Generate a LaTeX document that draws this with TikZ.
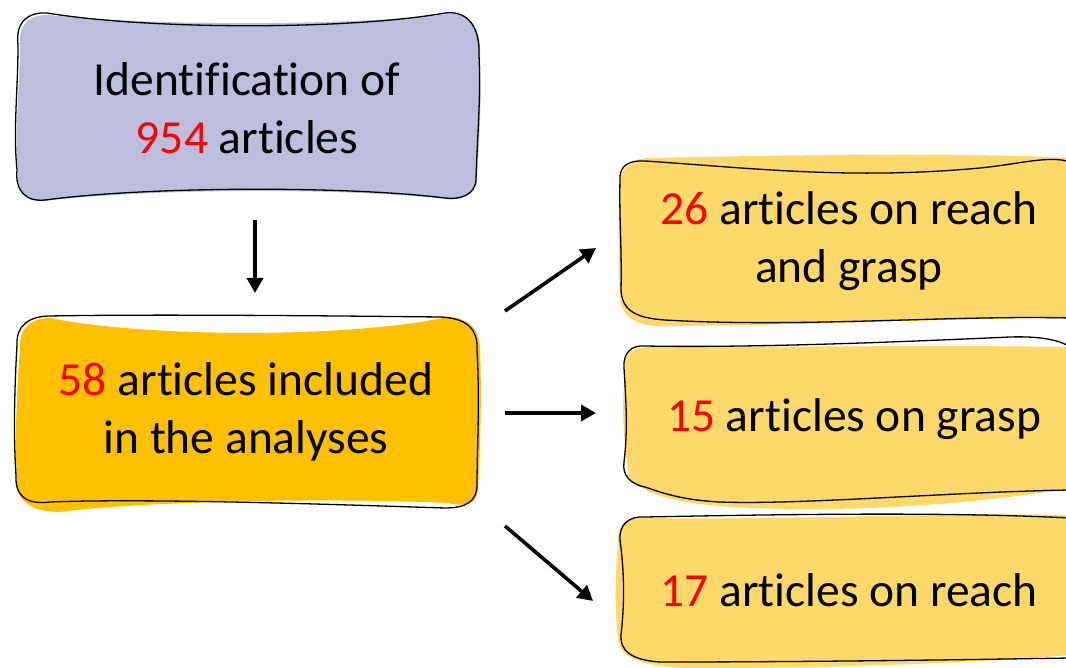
\documentclass[tikz,border=0pt]{standalone}
\usepackage{fontspec}
\setmainfont[Ligatures=NoCommon]{Carlito}
\usetikzlibrary{arrows.meta}
\definecolor{lav}{RGB}{189,189,221}
\definecolor{amber}{RGB}{255,192,0}
\definecolor{lamber}{RGB}{254,216,104}
\definecolor{num}{RGB}{255,0,0}
\tikzset{
  outline/.style={draw=black, line width=1.3pt},
  txt/.style={align=center, font=\fontsize{47.5}{57.5}\selectfont, text=black, inner sep=0pt},
  arr/.style={line width=3.6pt, -{Triangle[length=15pt,width=16pt]}},
}
\newcommand{\nm}[1]{\textcolor{num}{#1}}
\begin{document}
\begin{tikzpicture}[x=1pt,y=-1pt]
\useasboundingbox (0,0) rectangle (1066,668);
\clip (0,0) rectangle (1066,668);
% ---- Box 1 (lavender)
\fill[lav] (20,45) .. controls (18,22) and (32,14) .. (50,15)
  .. controls (150,26) and (350,26) .. (448,14)
  .. controls (472,12) and (482,30) .. (480,60)
  .. controls (482,100) and (479,140) .. (477,180)
  .. controls (476,196) and (460,201) .. (445,199)
  .. controls (350,188) and (150,188) .. (45,201)
  .. controls (25,203) and (16,190) .. (18,170)
  .. controls (14,130) and (20,90) .. (20,45) -- cycle;
\draw[outline] (18,45) .. controls (15,20) and (30,12) .. (47,13)
  .. controls (150,30) and (350,30) .. (445,13)
  .. controls (470,10) and (480,30) .. (479,55)
  .. controls (481,100) and (477,140) .. (476,180)
  .. controls (475,195) and (460,200) .. (445,198)
  .. controls (350,186) and (150,186) .. (45,200)
  .. controls (25,202) and (15,190) .. (17,170)
  .. controls (13,130) and (18,90) .. (18,45) -- cycle;
\node[txt] (n1) at (247,108) {Identification of\\\nm{954} articles};
% ---- Box 2 (amber)
\fill[amber] (20,345) .. controls (20,325) and (35,318) .. (50,318)
  .. controls (150,338) and (350,338) .. (448,317)
  .. controls (470,318) and (480,330) .. (480,350)
  .. controls (482,400) and (480,450) .. (478,490)
  .. controls (476,505) and (465,507) .. (448,503)
  .. controls (350,498) and (150,500) .. (60,512)
  .. controls (30,512) and (16,500) .. (17,480)
  .. controls (14,430) and (18,380) .. (20,345) -- cycle;
\draw[outline] (17,345) .. controls (16,325) and (30,316) .. (50,316)
  .. controls (150,314) and (350,316) .. (440,317)
  .. controls (468,318) and (478,330) .. (477,350)
  .. controls (480,400) and (477,450) .. (477,485)
  .. controls (477,502) and (465,508) .. (445,508)
  .. controls (350,505) and (150,498) .. (50,502)
  .. controls (25,505) and (15,495) .. (16,475)
  .. controls (13,430) and (15,380) .. (17,345) -- cycle;
\node[txt] (n2) at (246,412) {\nm{58} articles included\\in the analyses};
% ---- Box A
\fill[lamber] (620,185) .. controls (620,165) and (635,158) .. (650,158)
  .. controls (800,155) and (950,152) .. (1070,158)
  -- (1070,318)
  .. controls (950,318) and (800,326) .. (660,326)
  .. controls (635,326) and (620,315) .. (620,295)
  .. controls (618,260) and (618,220) .. (620,185) -- cycle;
\draw[outline] (620,180) .. controls (619,165) and (630,160) .. (645,161)
  .. controls (750,168) and (850,180) .. (980,168)
  .. controls (1020,164) and (1050,155) .. (1070,162);
\draw[outline] (1070,318) .. controls (950,315) and (800,328) .. (665,320)
  .. controls (635,318) and (622,310) .. (621,290)
  .. controls (622,250) and (619,215) .. (620,180);
\node[txt] (na) at (849,241) {\nm{26} articles on reach\\and grasp};
% ---- Box B
\fill[lamber] (625,370) .. controls (623,352) and (635,347) .. (650,347)
  .. controls (800,347) and (950,345) .. (1070,347)
  -- (1070,488)
  .. controls (1000,500) and (900,510) .. (800,509)
  .. controls (720,508) and (660,505) .. (630,480)
  .. controls (622,440) and (622,400) .. (625,370) -- cycle;
\draw[outline] (624,368) .. controls (623,352) and (632,345) .. (645,346)
  .. controls (750,348) and (900,342) .. (1010,337)
  .. controls (1040,336) and (1060,340) .. (1070,347);
\draw[outline] (1070,490) .. controls (950,492) and (800,505) .. (720,502)
  .. controls (680,500) and (660,492) .. (645,487)
  .. controls (630,484) and (622,475) .. (624,462)
  .. controls (628,430) and (626,400) .. (624,368);
\node[txt] (nb) at (854,419) {\nm{15} articles on grasp};
% ---- Box C
\fill[lamber] (618,540) .. controls (618,522) and (630,518) .. (645,518)
  .. controls (800,520) and (950,512) .. (1070,515)
  -- (1070,655)
  .. controls (950,665) and (800,668) .. (700,668)
  .. controls (650,668) and (620,660) .. (618,640)
  .. controls (614,600) and (616,570) .. (618,540) -- cycle;
\draw[outline] (620,540) .. controls (619,525) and (628,516) .. (645,517)
  .. controls (800,514) and (950,512) .. (1070,518);
\draw[outline] (1070,658) .. controls (950,660) and (800,662) .. (660,662)
  .. controls (630,660) and (620,650) .. (621,635)
  .. controls (625,600) and (624,570) .. (620,540);
\node[txt] (nc) at (849,590) {\nm{17} articles on reach};
% ---- arrows
\coordinate (a1s) at (255,220); \coordinate (a1e) at (255,293);
\coordinate (a2s) at (505,311); \coordinate (a2e) at (596,248);
\coordinate (a3s) at (505,413); \coordinate (a3e) at (596,413);
\coordinate (a4s) at (505,526); \coordinate (a4e) at (593,601);
\draw[arr] (a1s) -- (a1e);
\draw[arr] (a2s) -- (a2e);
\draw[arr] (a3s) -- (a3e);
\draw[arr] (a4s) -- (a4e);
\end{tikzpicture}
\end{document}
